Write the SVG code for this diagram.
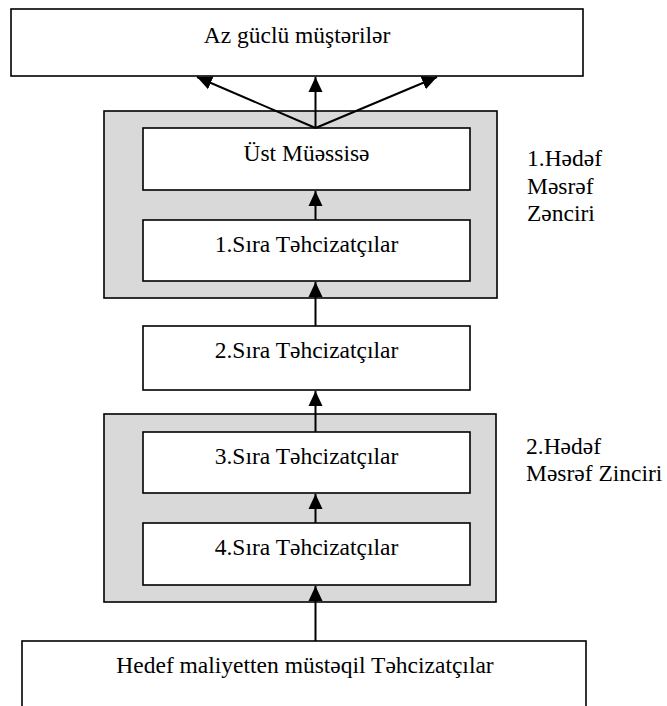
<svg xmlns="http://www.w3.org/2000/svg" width="667" height="706" viewBox="0 0 667 706">
<style>
.box{fill:#fff;stroke:#000;stroke-width:1.6}
.grp{fill:#d9d9d9;stroke:#000;stroke-width:1.6}
.t{font-family:"Liberation Serif","DejaVu Serif","Times New Roman",serif;font-size:23.5px;fill:#000}
.c{text-anchor:middle}
.ln{stroke:#000;stroke-width:2;fill:none;marker-end:url(#ah)}
</style>
<defs>
<marker id="ah" markerUnits="userSpaceOnUse" markerWidth="16" markerHeight="16" viewBox="0 0 16 16" refX="15" refY="8" orient="auto">
<polygon points="0,1 15,8 0,15" fill="#000"/>
</marker>
</defs>
<g id="top"><rect class="box" x="11" y="9" width="572" height="67"/><text class="t c" x="297" y="43">Az güclü müştərilər</text></g>
<g id="chain1"><rect class="grp" x="104" y="111" width="393" height="187"/></g>
<g id="chain2"><rect class="grp" x="104" y="414" width="392" height="188"/></g>
<g id="ust"><rect class="box" x="143" y="128" width="327" height="62"/><text class="t c" x="306.5" y="161">Üst Müəssisə</text></g>
<g id="sira1"><rect class="box" x="143" y="220" width="327" height="61"/><text class="t c" x="306.5" y="252">1.Sıra Təhcizatçılar</text></g>
<g id="sira2"><rect class="box" x="143" y="326" width="327" height="64"/><text class="t c" x="306.5" y="358">2.Sıra Təhcizatçılar</text></g>
<g id="sira3"><rect class="box" x="143" y="432" width="327" height="61"/><text class="t c" x="306.5" y="464">3.Sıra Təhcizatçılar</text></g>
<g id="sira4"><rect class="box" x="143" y="523" width="327" height="62"/><text class="t c" x="306.5" y="555">4.Sıra Təhcizatçılar</text></g>
<g id="bottom"><rect class="box" x="22" y="641" width="564" height="80"/><text class="t c" x="305" y="673">Hedef maliyetten müstəqil Təhcizatçılar</text></g>
<g id="label1"><text class="t" x="527" y="166">1.Hədəf</text><text class="t" x="527" y="193.5">Məsrəf</text><text class="t" x="527" y="221">Zənciri</text></g>
<g id="label2"><text class="t" x="526" y="454">2.Hədəf</text><text class="t" x="526" y="481">Məsrəf Zinciri</text></g>
<g id="connectors">
<line class="ln" x1="315.5" y1="128" x2="315.5" y2="77"/>
<line class="ln" x1="315.5" y1="128" x2="197" y2="77"/>
<line class="ln" x1="315.5" y1="128" x2="437" y2="77"/>
<line class="ln" x1="315.5" y1="220" x2="315.5" y2="191"/>
<line class="ln" x1="315.5" y1="326" x2="315.5" y2="282"/>
<line class="ln" x1="315.5" y1="432" x2="315.5" y2="391"/>
<line class="ln" x1="315.5" y1="523" x2="315.5" y2="494"/>
<line class="ln" x1="315.5" y1="641" x2="315.5" y2="586"/>
</g>
</svg>
